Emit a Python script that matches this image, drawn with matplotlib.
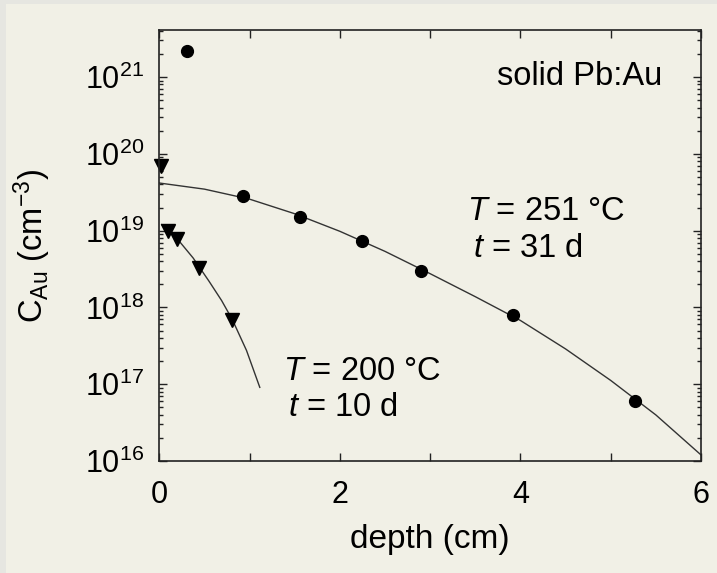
import numpy as np
import matplotlib
matplotlib.use("Agg")
import matplotlib.pyplot as plt
from matplotlib.patches import Rectangle
from matplotlib.ticker import LogLocator, MultipleLocator, NullFormatter

plt.rcParams['font.family'] = ['Liberation Sans', 'DejaVu Sans']
plt.rcParams['mathtext.fontset'] = 'custom'
plt.rcParams['mathtext.rm'] = 'Liberation Sans'
plt.rcParams['mathtext.it'] = 'Liberation Sans:italic'

#----------------------------------------------------------------
# Dados
#----------------------------------------------------------------
# T = 251 C, t = 31 d (círculos)
x_251 = [0.31, 0.925, 1.56, 2.25, 2.90, 3.92, 5.27]
c_251 = [2.2e21, 2.8e19, 1.5e19, 7.4e18, 3.0e18, 8.0e17, 6.0e16]
# curva ajustada
xf_251 = [0.0, 0.5, 1.0, 1.5, 2.0, 2.5, 3.0, 3.5, 4.0, 4.5, 5.0, 5.5, 6.0]
cf_251 = [4.17e19, 3.47e19, 2.57e19, 1.66e19, 9.8e18, 5.37e18, 2.75e18, 1.38e18,
          6.76e17, 2.88e17, 1.12e17, 3.98e16, 1.2e16]

# T = 200 C, t = 10 d (triângulos)
x_200 = [0.02, 0.10, 0.20, 0.435, 0.81]
c_200 = [7.0e19, 1.0e19, 7.8e18, 3.3e18, 6.8e17]
xf_200 = [0.026, 0.10, 0.20, 0.375, 0.44, 0.55, 0.69, 0.81, 0.966, 1.113]
cf_200 = [1.2e19, 1.0e19, 7.8e18, 4.4e18, 3.4e18, 2.2e18, 1.23e18, 6.9e17,
          2.75e17, 9.1e16]

bg = '#f1f0e6'
borda = '#e6e6e1'

fig = plt.figure(figsize=(7.17, 5.73), dpi=100, facecolor=borda)
fig.patches.append(Rectangle((6/717, 0), 1, 1 - 4/573, transform=fig.transFigure,
                             facecolor=bg, edgecolor='none', zorder=-10))

ax = fig.add_axes([159.3/717, 112/573, 541.7/717, 431/573])
ax.set_facecolor(bg)

# curvas e pontos
ax.plot(xf_251, cf_251, '-', color='#333333', lw=1.0)
ax.plot(xf_200, cf_200, '-', color='#333333', lw=1.0)
ax.plot(x_251, c_251, 'o', color='black', ms=8.5, clip_on=False)
ax.plot(x_200, c_200, 'v', color='black', ms=10, clip_on=False)

ax.set_yscale('log')
ax.set_xlim(0, 6)
ax.set_ylim(1e16, 4.1e21)

ax.xaxis.set_major_locator(MultipleLocator(2))
ax.xaxis.set_minor_locator(MultipleLocator(1))
ax.yaxis.set_major_locator(LogLocator(base=10, numticks=20))
ax.yaxis.set_minor_locator(LogLocator(base=10, subs=np.arange(2, 10), numticks=20))
ax.yaxis.set_minor_formatter(NullFormatter())

ax.tick_params(which='both', direction='in', top=True, right=True, width=1.0,
               color='#222222')
ax.tick_params(which='major', length=6, labelsize=22)
ax.tick_params(axis='y', which='major', pad=11)
ax.tick_params(axis='x', which='major', pad=14)
ax.tick_params(which='minor', length=3)
ax.tick_params(axis='x', which='minor', length=6)
for s in ax.spines.values():
    s.set_linewidth(1.2)
    s.set_color('#222222')

ax.set_xlabel('depth (cm)', fontsize=24)
ax.xaxis.set_label_coords(0.5, -0.146)
ax.set_ylabel('C$_{\\mathrm{Au}}$ (cm$^{-3}$)', fontsize=23.5)
ax.yaxis.set_label_coords(-0.196, 0.5)

# Textos
ax.text(0.623, 0.872, 'solid Pb:Au', transform=ax.transAxes, fontsize=23.5,
        ha='left', va='baseline')
ax.text(0.5675, 0.559, '$T$ = 251 °C', transform=ax.transAxes, fontsize=23.5,
        ha='left', va='baseline')
ax.text(0.5786, 0.474, '$t$ = 31 d', transform=ax.transAxes, fontsize=23.5,
        ha='left', va='baseline')
ax.text(0.2278, 0.188, '$T$ = 200 °C', transform=ax.transAxes, fontsize=23.5,
        ha='left', va='baseline')
ax.text(0.238, 0.1044, '$t$ = 10 d', transform=ax.transAxes, fontsize=23.5,
        ha='left', va='baseline')

fig.savefig('out.png', dpi=100, facecolor=fig.get_facecolor())
